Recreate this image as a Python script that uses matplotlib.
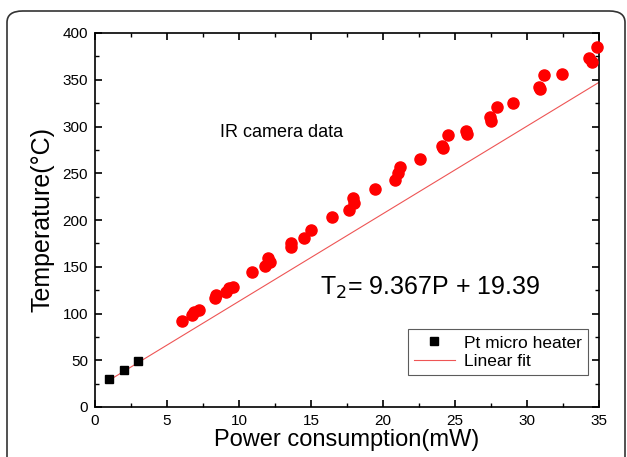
import numpy as np
import matplotlib.pyplot as plt
from matplotlib.patches import FancyBboxPatch

plt.rcParams['font.family'] = ['Liberation Sans', 'DejaVu Sans']

# Pt micro heater points
pt_power = [1.0, 2.0, 3.0]
pt_temp = [30, 39.5, 49]

# IR camera data points
ir_power = [6.04, 6.74, 6.88, 7.22, 8.33, 8.40, 9.10, 9.31, 9.58, 10.90,
            11.81, 12.15, 12.01, 13.61, 13.61, 14.51, 15.0, 16.46, 17.64, 17.99,
            17.92, 19.44, 20.83, 21.04, 21.18, 22.57, 24.17, 24.10, 24.51, 25.76,
            25.83, 27.50, 27.43, 27.92, 29.03, 30.90, 30.83, 31.18, 32.43, 34.51,
            34.31, 34.86]
ir_temp = [92.1, 98.5, 101.7, 103.9, 116.7, 119.9, 123.1, 127.4, 128.5, 144.5,
           151.0, 155.2, 159.5, 171.3, 175.6, 180.9, 189.5, 203.4, 210.9, 218.4,
           223.8, 233.4, 243.0, 250.5, 257.0, 265.5, 277.3, 279.4, 291.2, 295.5,
           292.3, 306.2, 310.5, 321.2, 325.5, 340.5, 342.6, 355.5, 356.5, 369.4,
           373.7, 385.4]

# linear fit T2 = 9.367P + 19.39
slope, intercept = 9.367, 19.39
fit_x = np.array([1.0, 35.0])

fig = plt.figure(figsize=(6.27, 4.57), dpi=100)
ax = fig.add_axes([95/627, 1-407/457, 504/627, 374/457])

# rounded frame around the figure
frame = FancyBboxPatch((7/627, -0.1), 618/627, 1.1 - 11/457,
                       boxstyle="round,pad=0,rounding_size=0.025",
                       transform=fig.transFigure, fill=False,
                       edgecolor='#333333', linewidth=1.2, zorder=-1)
fig.patches.append(frame)

ax.plot(ir_power, ir_temp, 'o', color='#ff0000', markersize=8, clip_on=False, zorder=3)
ax.plot(pt_power, pt_temp, 's', color='black', markersize=6, label='Pt micro heater', zorder=4)
ax.plot(fit_x, slope*fit_x + intercept, '-', color='#ee5555', linewidth=0.8, label='Linear fit')

ax.set_xlim(0, 35)
ax.set_ylim(0, 400)
ax.set_xticks(np.arange(0, 36, 5))
ax.set_yticks(np.arange(0, 401, 50))
ax.set_xticks(np.arange(2.5, 35, 5), minor=True)
ax.set_yticks(np.arange(25, 400, 50), minor=True)
ax.tick_params(which='both', direction='in', top=True, right=True, labelsize=11)
ax.tick_params(which='major', length=5, width=1.2, pad=5)
ax.tick_params(which='minor', length=3, width=1.0)
for s in ax.spines.values():
    s.set_linewidth(1.2)

ax.set_xlabel('Power consumption(mW)', fontsize=17, labelpad=1)
ax.set_ylabel('Temperature(\u00b0C)', fontsize=18, labelpad=6)

ax.text(8.7, 294, 'IR camera data', fontsize=13, va='center', ha='left')
ax.text(15.6, 127, 'T$_2$= 9.367P + 19.39', fontsize=18, va='center', ha='left')

leg = ax.legend(loc='lower right', bbox_to_anchor=(0.978, 0.085), borderaxespad=0,
                fontsize=12.5, frameon=True, fancybox=False, edgecolor='#333333',
                handlelength=2.4, borderpad=0.35, labelspacing=0.2, handletextpad=0.5)
leg.get_frame().set_linewidth(0.8)

fig.savefig('out.png', dpi=100)
